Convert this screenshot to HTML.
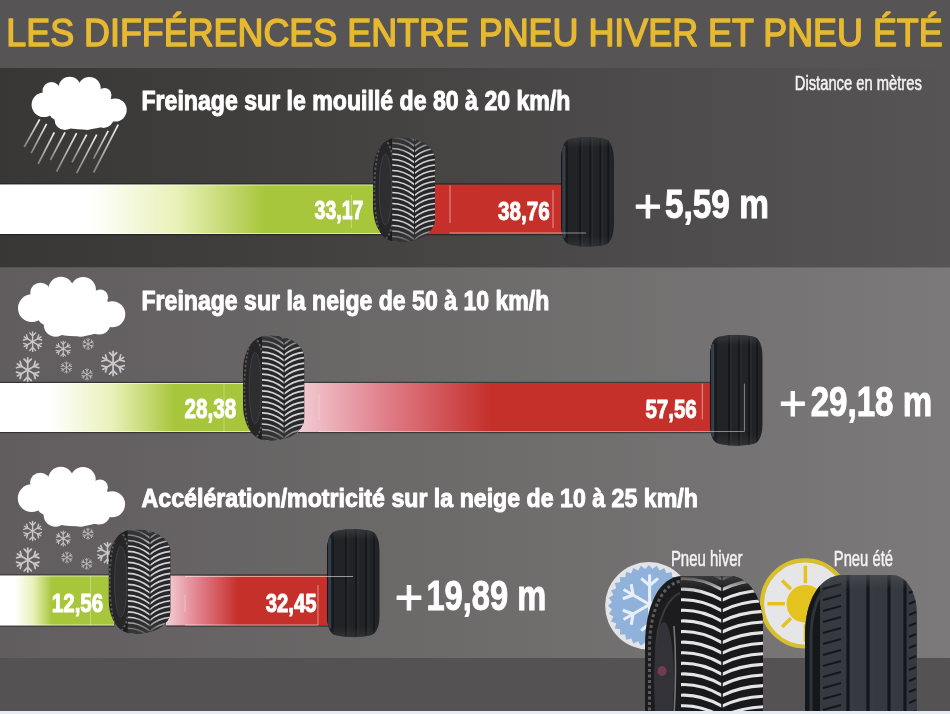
<!DOCTYPE html><html><head><meta charset="utf-8"><title>Les différences entre pneu hiver et pneu été</title>
<style>html,body{margin:0;padding:0;background:#5a5758;}body{width:950px;height:714px;overflow:hidden;}svg{display:block;font-family:"Liberation Sans",Arial,sans-serif;}</style></head><body>
<svg width="950" height="714" viewBox="0 0 950 714">
<defs>
<linearGradient id="gp1" x1="0" y1="0" x2="1" y2="0"><stop offset="0" stop-color="#393735"/><stop offset="1" stop-color="#565455"/></linearGradient>
<linearGradient id="gp2" x1="0" y1="0" x2="1" y2="0"><stop offset="0" stop-color="#615d5e"/><stop offset="1" stop-color="#7b7979"/></linearGradient>
<linearGradient id="gb" x1="0" y1="0" x2="1" y2="0"><stop offset="0" stop-color="#545253"/><stop offset="1" stop-color="#5e5c5d"/></linearGradient>
<linearGradient id="rainG" x1="1" y1="0" x2="0" y2="1"><stop offset="0" stop-color="#f4f4f4"/><stop offset="1" stop-color="#bdbdbd" stop-opacity="0.55"/></linearGradient>
<linearGradient id="gg1" gradientUnits="userSpaceOnUse" x1="0" y1="0" x2="265" y2="0"><stop offset="0" stop-color="#ffffff"/><stop offset="0.340" stop-color="#ffffff"/><stop offset="0.670" stop-color="#e9f1b8"/><stop offset="1" stop-color="#a7c63b"/></linearGradient>
<linearGradient id="gg2" gradientUnits="userSpaceOnUse" x1="0" y1="0" x2="175" y2="0"><stop offset="0" stop-color="#ffffff"/><stop offset="0.286" stop-color="#ffffff"/><stop offset="0.643" stop-color="#e9f1b8"/><stop offset="1" stop-color="#a7c63b"/></linearGradient>
<linearGradient id="gg3" gradientUnits="userSpaceOnUse" x1="0" y1="0" x2="52" y2="0"><stop offset="0" stop-color="#ffffff"/><stop offset="0.288" stop-color="#ffffff"/><stop offset="0.644" stop-color="#e9f1b8"/><stop offset="1" stop-color="#a7c63b"/></linearGradient>
<linearGradient id="rg2" gradientUnits="userSpaceOnUse" x1="300" y1="0" x2="490" y2="0"><stop offset="0" stop-color="#f2cbd2"/><stop offset="0.45" stop-color="#e07e8a"/><stop offset="1" stop-color="#c5302b"/></linearGradient>
<linearGradient id="rg3" gradientUnits="userSpaceOnUse" x1="168" y1="0" x2="238" y2="0"><stop offset="0" stop-color="#f2cbd2"/><stop offset="0.45" stop-color="#e07e8a"/><stop offset="1" stop-color="#c5302b"/></linearGradient>
<g id="cloud" fill="#ffffff">
<circle cx="43.9" cy="104.7" r="12.3"/>
<circle cx="51.5" cy="91" r="9"/>
<circle cx="69.7" cy="88" r="11.2"/>
<circle cx="89.4" cy="88.3" r="11.3"/>
<circle cx="104.5" cy="95" r="7"/>
<circle cx="115.2" cy="110" r="11.5"/>
<circle cx="65" cy="119.5" r="10.5"/>
<circle cx="87.4" cy="119.5" r="10.5"/>
<circle cx="103.6" cy="118" r="10"/>
<ellipse cx="80" cy="105" rx="34" ry="16"/>
<ellipse cx="83" cy="120" rx="27" ry="9.5"/>
<ellipse cx="58" cy="112" rx="9" ry="8"/>
</g>
<g id="sf" stroke="#cbc7c8" stroke-width="1.45" stroke-linecap="round" fill="none">
<path d="M0,-10V10M-8.66,-5L8.66,5M-8.66,5L8.66,-5"/>
<path d="M-3,-9L0,-6L3,-9M-3,9L0,6L3,9M-9.3,-1.8L-5.2,-3L-6.3,-7.1M9.3,1.8L5.2,3L6.3,7.1M-9.3,1.8L-5.2,3L-6.3,7.1M9.3,-1.8L5.2,-3L6.3,-7.1"/>
</g>
</defs>
<rect x="0" y="0" width="950" height="68" fill="#575455"/>
<rect x="0" y="68" width="950" height="199.5" fill="url(#gp1)"/>
<rect x="0" y="267.5" width="950" height="390.5" fill="url(#gp2)"/>
<rect x="0" y="658" width="950" height="53" fill="#545253"/>
<rect x="0" y="711" width="950" height="3" fill="#e6ecf4"/>
<text x="6.28" y="45.80" textLength="936.42" lengthAdjust="spacingAndGlyphs" font-size="39.07" font-weight="normal" fill="#e7b931" stroke="#e7b931" stroke-width="1.5" stroke-linejoin="round" >LES DIFFÉRENCES ENTRE PNEU HIVER ET PNEU ÉTÉ</text>
<use href="#cloud"/>
<line x1="39.7" y1="119.3" x2="24.2" y2="147" stroke="url(#rainG)" stroke-width="1.7"/>
<line x1="46.6" y1="123.9" x2="31.2" y2="153.2" stroke="url(#rainG)" stroke-width="1.7"/>
<line x1="54.3" y1="132.4" x2="38.1" y2="164" stroke="url(#rainG)" stroke-width="1.7"/>
<line x1="65" y1="132.4" x2="50.4" y2="160" stroke="url(#rainG)" stroke-width="1.7"/>
<line x1="76.6" y1="133.2" x2="56.6" y2="171.7" stroke="url(#rainG)" stroke-width="1.7"/>
<line x1="86.6" y1="134.7" x2="72" y2="162.4" stroke="url(#rainG)" stroke-width="1.7"/>
<line x1="96.7" y1="134.7" x2="76.6" y2="173.2" stroke="url(#rainG)" stroke-width="1.7"/>
<line x1="108.2" y1="130.9" x2="93.6" y2="158.6" stroke="url(#rainG)" stroke-width="1.7"/>
<line x1="118.2" y1="124.7" x2="93.6" y2="172.5" stroke="url(#rainG)" stroke-width="1.7"/>
<text x="141.48" y="110.30" textLength="428.98" lengthAdjust="spacingAndGlyphs" font-size="26.89" font-weight="bold" fill="#ffffff" stroke="#ffffff" stroke-width="1.0" stroke-linejoin="round" >Freinage sur le mouillé de 80 à 20 km/h</text>
<text x="794.80" y="90.30" textLength="127.04" lengthAdjust="spacingAndGlyphs" font-size="19.36" font-weight="normal" fill="#f2f2f2" stroke="#f2f2f2" stroke-width="0.55" stroke-linejoin="round" >Distance en mètres</text>
<rect x="0" y="184.5" width="382" height="49.5" fill="url(#gg1)"/>
<rect x="0" y="183.3" width="382" height="1.2" fill="#121212" opacity="0.55"/>
<rect x="0" y="234.0" width="382" height="1.2" fill="#121212" opacity="0.55"/>
<rect x="0" y="184.5" width="382" height="1" fill="#ffffff" opacity="0.6"/>
<rect x="0" y="233.0" width="382" height="1" fill="#ffffff" opacity="0.6"/>
<rect x="426" y="184.5" width="136" height="49.5" fill="#c6302b"/>
<rect x="426" y="183.3" width="136" height="1.2" fill="#121212" opacity="0.55"/>
<rect x="426" y="234.0" width="136" height="1.2" fill="#121212" opacity="0.55"/>
<text x="314.61" y="219.00" textLength="48.72" lengthAdjust="spacingAndGlyphs" font-size="25.00" font-weight="bold" fill="#ffffff" stroke="#ffffff" stroke-width="1.0" stroke-linejoin="round" >33,17</text>
<text x="498.09" y="219.60" textLength="51.58" lengthAdjust="spacingAndGlyphs" font-size="26.29" font-weight="bold" fill="#ffffff" stroke="#ffffff" stroke-width="1.0" stroke-linejoin="round" >38,76</text>
<g transform="translate(373.0,137.5)">
<clipPath id="wc1"><path d="M25.0,0.0 C45.0,0.0 62.0,8.0 62.0,23.9 L62.0,80.6 C62.0,96.5 45.0,104.5 25.0,104.5 C10.0,104.5 0.0,89.6 0.0,67.7 L0.0,36.8 C0.0,14.9 10.0,0.0 25.0,0.0 Z"/></clipPath>
<clipPath id="wt1"><path d="M19.0,1.0 L25.0,0.0 C45.0,0.0 62.0,8.0 62.0,23.9 L62.0,80.6 C62.0,96.5 45.0,104.5 25.0,104.5 L19.0,103.5 Z"/></clipPath>
<g clip-path="url(#wc1)">
<rect x="0" y="0" width="62.0" height="104.5" fill="#1d1d1f"/>
<ellipse cx="11.8" cy="52.2" rx="10.5" ry="49.1" fill="#262628" stroke="#69696b" stroke-opacity="0.75" stroke-width="1.9" stroke-dasharray="2.5 1.9"/>
<ellipse cx="12.4" cy="52.2" rx="6.2" ry="35.5" fill="#2e2e31" stroke="#3f3f42" stroke-width="1"/>
</g>
<g clip-path="url(#wt1)">
<rect x="0" y="0" width="62.0" height="104.5" fill="#28282a"/>
<path d="M19.2,-16.5Q31.0,-16.5 41.5,-8.0Q49.6,-15.2 62.0,-16.5" fill="none" stroke="#d2d2d4" stroke-width="1.65"/>
<path d="M19.2,-11.0Q31.0,-11.0 41.5,-2.5Q49.6,-9.7 62.0,-11.0" fill="none" stroke="#d2d2d4" stroke-width="1.65"/>
<path d="M19.2,-5.5Q31.0,-5.5 41.5,3.0Q49.6,-4.2 62.0,-5.5" fill="none" stroke="#d2d2d4" stroke-width="1.65"/>
<path d="M19.2,0.0Q31.0,0.0 41.5,8.5Q49.6,1.3 62.0,0.0" fill="none" stroke="#d2d2d4" stroke-width="1.65"/>
<path d="M19.2,5.5Q31.0,5.5 41.5,14.0Q49.6,6.8 62.0,5.5" fill="none" stroke="#d2d2d4" stroke-width="1.65"/>
<path d="M19.2,11.0Q31.0,11.0 41.5,19.5Q49.6,12.3 62.0,11.0" fill="none" stroke="#d2d2d4" stroke-width="1.65"/>
<path d="M19.2,16.5Q31.0,16.5 41.5,25.0Q49.6,17.8 62.0,16.5" fill="none" stroke="#d2d2d4" stroke-width="1.65"/>
<path d="M19.2,22.0Q31.0,22.0 41.5,30.5Q49.6,23.3 62.0,22.0" fill="none" stroke="#d2d2d4" stroke-width="1.65"/>
<path d="M19.2,27.5Q31.0,27.5 41.5,36.0Q49.6,28.8 62.0,27.5" fill="none" stroke="#d2d2d4" stroke-width="1.65"/>
<path d="M19.2,33.0Q31.0,33.0 41.5,41.5Q49.6,34.3 62.0,33.0" fill="none" stroke="#d2d2d4" stroke-width="1.65"/>
<path d="M19.2,38.5Q31.0,38.5 41.5,47.0Q49.6,39.8 62.0,38.5" fill="none" stroke="#d2d2d4" stroke-width="1.65"/>
<path d="M19.2,44.0Q31.0,44.0 41.5,52.5Q49.6,45.3 62.0,44.0" fill="none" stroke="#d2d2d4" stroke-width="1.65"/>
<path d="M19.2,49.5Q31.0,49.5 41.5,58.0Q49.6,50.8 62.0,49.5" fill="none" stroke="#d2d2d4" stroke-width="1.65"/>
<path d="M19.2,55.0Q31.0,55.0 41.5,63.5Q49.6,56.3 62.0,55.0" fill="none" stroke="#d2d2d4" stroke-width="1.65"/>
<path d="M19.2,60.5Q31.0,60.5 41.5,69.0Q49.6,61.8 62.0,60.5" fill="none" stroke="#d2d2d4" stroke-width="1.65"/>
<path d="M19.2,66.0Q31.0,66.0 41.5,74.5Q49.6,67.3 62.0,66.0" fill="none" stroke="#d2d2d4" stroke-width="1.65"/>
<path d="M19.2,71.5Q31.0,71.5 41.5,80.0Q49.6,72.8 62.0,71.5" fill="none" stroke="#d2d2d4" stroke-width="1.65"/>
<path d="M19.2,77.0Q31.0,77.0 41.5,85.5Q49.6,78.3 62.0,77.0" fill="none" stroke="#d2d2d4" stroke-width="1.65"/>
<path d="M19.2,82.5Q31.0,82.5 41.5,91.0Q49.6,83.8 62.0,82.5" fill="none" stroke="#d2d2d4" stroke-width="1.65"/>
<path d="M19.2,88.0Q31.0,88.0 41.5,96.5Q49.6,89.3 62.0,88.0" fill="none" stroke="#d2d2d4" stroke-width="1.65"/>
<path d="M19.2,93.5Q31.0,93.5 41.5,102.0Q49.6,94.8 62.0,93.5" fill="none" stroke="#d2d2d4" stroke-width="1.65"/>
<path d="M19.2,99.0Q31.0,99.0 41.5,107.5Q49.6,100.3 62.0,99.0" fill="none" stroke="#d2d2d4" stroke-width="1.65"/>
<path d="M19.2,104.5Q31.0,104.5 41.5,113.0Q49.6,105.8 62.0,104.5" fill="none" stroke="#d2d2d4" stroke-width="1.65"/>
<path d="M19.2,110.0Q31.0,110.0 41.5,118.5Q49.6,111.3 62.0,110.0" fill="none" stroke="#d2d2d4" stroke-width="1.65"/>
<path d="M19.2,115.5Q31.0,115.5 41.5,124.0Q49.6,116.8 62.0,115.5" fill="none" stroke="#d2d2d4" stroke-width="1.65"/>
<line x1="41.5" y1="0" x2="41.5" y2="104.5" stroke="#1b1b1d" stroke-width="0.9"/>
<linearGradient id="wtg1" x1="0" y1="0" x2="0" y2="1"><stop offset="0" stop-color="#3a3a3c" stop-opacity="0.85"/><stop offset="0.16" stop-color="#3a3a3c" stop-opacity="0"/><stop offset="0.84" stop-color="#3a3a3c" stop-opacity="0"/><stop offset="1" stop-color="#3a3a3c" stop-opacity="0.85"/></linearGradient>
<rect x="0" y="0" width="62.0" height="104.5" fill="url(#wtg1)"/>
</g>
</g>
<g transform="translate(561.0,136.8)">
<clipPath id="sc1"><path d="M10.0,2.0 Q26.5,-1.5 43.0,2.0 C50.0,3.0 53.0,12.0 53.0,25.0 L53.0,85.2 C53.0,98.2 50.0,107.2 43.0,108.2 Q26.5,111.7 10.0,108.2 C3.0,107.2 0.0,98.2 0.0,85.2 L0.0,25.0 C0.0,12.0 3.0,3.0 10.0,2.0 Z"/></clipPath>
<g clip-path="url(#sc1)">
<rect x="0" y="0" width="53.0" height="110.2" fill="#222326"/>
<rect x="0" y="0" width="6.9" height="110.2" fill="#17181b"/>
<rect x="1.3" y="8.8" width="3.2" height="92.6" rx="1.6" fill="#3b4752" opacity="0.85"/>
<line x1="19.1" y1="0" x2="19.1" y2="110.2" stroke="#141518" stroke-width="1.6"/>
<line x1="29.2" y1="0" x2="29.2" y2="110.2" stroke="#141518" stroke-width="1.6"/>
<line x1="39.2" y1="0" x2="39.2" y2="110.2" stroke="#141518" stroke-width="1.6"/>
<line x1="47.2" y1="0" x2="47.2" y2="110.2" stroke="#141518" stroke-width="1.6"/>
<line x1="21.2" y1="0" x2="21.2" y2="110.2" stroke="#3a3d42" stroke-width="0.8" opacity="0.6"/>
<line x1="31.3" y1="0" x2="31.3" y2="110.2" stroke="#3a3d42" stroke-width="0.8" opacity="0.6"/>
<line x1="41.3" y1="0" x2="41.3" y2="110.2" stroke="#3a3d42" stroke-width="0.8" opacity="0.6"/>
<linearGradient id="stg1" x1="0" y1="0" x2="0" y2="1"><stop offset="0" stop-color="#45464a" stop-opacity="0.6"/><stop offset="0.1" stop-color="#45464a" stop-opacity="0"/><stop offset="0.9" stop-color="#45464a" stop-opacity="0"/><stop offset="1" stop-color="#45464a" stop-opacity="0.4"/></linearGradient>
<rect x="0" y="0" width="53.0" height="110.2" fill="url(#stg1)"/>
</g>
</g>
<text x="634.11" y="221.55" textLength="27.89" lengthAdjust="spacingAndGlyphs" font-size="46.12" font-weight="normal" fill="#ffffff" stroke="#ffffff" stroke-width="1.0" stroke-linejoin="round" >+</text>
<text x="664.90" y="218.00" textLength="104.02" lengthAdjust="spacingAndGlyphs" font-size="40.29" font-weight="bold" fill="#ffffff" stroke="#ffffff" stroke-width="1.0" stroke-linejoin="round" >5,59 m</text>
<line x1="351.5" y1="195" x2="351.5" y2="228" stroke="#ffffff" stroke-opacity="0.35" stroke-width="0.9"/>
<line x1="450" y1="185.5" x2="450" y2="223" stroke="#ffffff" stroke-opacity="0.55" stroke-width="0.9"/>
<line x1="553" y1="190" x2="553" y2="228" stroke="#ffffff" stroke-opacity="0.55" stroke-width="0.9"/>
<line x1="449.5" y1="233" x2="586" y2="233" stroke="#ffffff" stroke-opacity="0.55" stroke-width="0.9"/>
<use href="#cloud" transform="translate(18,277) scale(1.128) translate(-31.6,-77)"/>
<use href="#sf" transform="translate(32.6,341.7) scale(0.970)"/>
<use href="#sf" transform="translate(27.7,369.9) scale(1.200)"/>
<use href="#sf" transform="translate(63.2,348.9) scale(0.770)"/>
<use href="#sf" transform="translate(88.1,344.1) scale(0.560)"/>
<use href="#sf" transform="translate(66.4,367.5) scale(0.560)"/>
<use href="#sf" transform="translate(87.0,374.4) scale(0.560)"/>
<use href="#sf" transform="translate(113.1,363.4) scale(1.200)"/>
<text x="141.48" y="310.30" textLength="407.90" lengthAdjust="spacingAndGlyphs" font-size="26.89" font-weight="bold" fill="#ffffff" stroke="#ffffff" stroke-width="1.0" stroke-linejoin="round" >Freinage sur la neige de 50 à 10 km/h</text>
<rect x="0" y="383" width="252" height="49" fill="url(#gg2)"/>
<rect x="0" y="381.8" width="252" height="1.2" fill="#121212" opacity="0.55"/>
<rect x="0" y="432" width="252" height="1.2" fill="#121212" opacity="0.55"/>
<rect x="0" y="383" width="252" height="1" fill="#ffffff" opacity="0.6"/>
<rect x="0" y="431" width="252" height="1" fill="#ffffff" opacity="0.6"/>
<rect x="298" y="383" width="413" height="49" fill="url(#rg2)"/>
<rect x="298" y="381.8" width="413" height="1.2" fill="#121212" opacity="0.55"/>
<rect x="298" y="432" width="413" height="1.2" fill="#121212" opacity="0.55"/>
<text x="184.58" y="417.80" textLength="51.69" lengthAdjust="spacingAndGlyphs" font-size="27.57" font-weight="bold" fill="#ffffff" stroke="#ffffff" stroke-width="1.0" stroke-linejoin="round" >28,38</text>
<text x="645.38" y="417.70" textLength="51.38" lengthAdjust="spacingAndGlyphs" font-size="26.29" font-weight="bold" fill="#ffffff" stroke="#ffffff" stroke-width="1.0" stroke-linejoin="round" >57,56</text>
<g transform="translate(243.0,335.5)">
<clipPath id="wc2"><path d="M24.8,0.0 C44.6,0.0 61.4,8.0 61.4,24.0 L61.4,81.1 C61.4,97.1 44.6,105.1 24.8,105.1 C9.9,105.1 0.0,90.1 0.0,68.1 L0.0,37.0 C0.0,15.0 9.9,0.0 24.8,0.0 Z"/></clipPath>
<clipPath id="wt2"><path d="M18.8,1.0 L24.8,0.0 C44.6,0.0 61.4,8.0 61.4,24.0 L61.4,81.1 C61.4,97.1 44.6,105.1 24.8,105.1 L18.8,104.1 Z"/></clipPath>
<g clip-path="url(#wc2)">
<rect x="0" y="0" width="61.4" height="105.1" fill="#1d1d1f"/>
<ellipse cx="11.7" cy="52.6" rx="10.4" ry="49.4" fill="#262628" stroke="#69696b" stroke-opacity="0.75" stroke-width="1.8" stroke-dasharray="2.5 1.8"/>
<ellipse cx="12.3" cy="52.6" rx="6.1" ry="35.7" fill="#2e2e31" stroke="#3f3f42" stroke-width="1"/>
</g>
<g clip-path="url(#wt2)">
<rect x="0" y="0" width="61.4" height="105.1" fill="#28282a"/>
<path d="M19.0,-16.6Q30.7,-16.6 41.1,-8.0Q49.1,-15.3 61.4,-16.6" fill="none" stroke="#d2d2d4" stroke-width="1.66"/>
<path d="M19.0,-11.1Q30.7,-11.1 41.1,-2.5Q49.1,-9.8 61.4,-11.1" fill="none" stroke="#d2d2d4" stroke-width="1.66"/>
<path d="M19.0,-5.5Q30.7,-5.5 41.1,3.0Q49.1,-4.2 61.4,-5.5" fill="none" stroke="#d2d2d4" stroke-width="1.66"/>
<path d="M19.0,0.0Q30.7,0.0 41.1,8.6Q49.1,1.3 61.4,0.0" fill="none" stroke="#d2d2d4" stroke-width="1.66"/>
<path d="M19.0,5.5Q30.7,5.5 41.1,14.1Q49.1,6.8 61.4,5.5" fill="none" stroke="#d2d2d4" stroke-width="1.66"/>
<path d="M19.0,11.1Q30.7,11.1 41.1,19.6Q49.1,12.3 61.4,11.1" fill="none" stroke="#d2d2d4" stroke-width="1.66"/>
<path d="M19.0,16.6Q30.7,16.6 41.1,25.2Q49.1,17.9 61.4,16.6" fill="none" stroke="#d2d2d4" stroke-width="1.66"/>
<path d="M19.0,22.1Q30.7,22.1 41.1,30.7Q49.1,23.4 61.4,22.1" fill="none" stroke="#d2d2d4" stroke-width="1.66"/>
<path d="M19.0,27.7Q30.7,27.7 41.1,36.2Q49.1,28.9 61.4,27.7" fill="none" stroke="#d2d2d4" stroke-width="1.66"/>
<path d="M19.0,33.2Q30.7,33.2 41.1,41.8Q49.1,34.5 61.4,33.2" fill="none" stroke="#d2d2d4" stroke-width="1.66"/>
<path d="M19.0,38.7Q30.7,38.7 41.1,47.3Q49.1,40.0 61.4,38.7" fill="none" stroke="#d2d2d4" stroke-width="1.66"/>
<path d="M19.0,44.3Q30.7,44.3 41.1,52.8Q49.1,45.5 61.4,44.3" fill="none" stroke="#d2d2d4" stroke-width="1.66"/>
<path d="M19.0,49.8Q30.7,49.8 41.1,58.4Q49.1,51.1 61.4,49.8" fill="none" stroke="#d2d2d4" stroke-width="1.66"/>
<path d="M19.0,55.3Q30.7,55.3 41.1,63.9Q49.1,56.6 61.4,55.3" fill="none" stroke="#d2d2d4" stroke-width="1.66"/>
<path d="M19.0,60.8Q30.7,60.8 41.1,69.4Q49.1,62.1 61.4,60.8" fill="none" stroke="#d2d2d4" stroke-width="1.66"/>
<path d="M19.0,66.4Q30.7,66.4 41.1,75.0Q49.1,67.7 61.4,66.4" fill="none" stroke="#d2d2d4" stroke-width="1.66"/>
<path d="M19.0,71.9Q30.7,71.9 41.1,80.5Q49.1,73.2 61.4,71.9" fill="none" stroke="#d2d2d4" stroke-width="1.66"/>
<path d="M19.0,77.4Q30.7,77.4 41.1,86.0Q49.1,78.7 61.4,77.4" fill="none" stroke="#d2d2d4" stroke-width="1.66"/>
<path d="M19.0,83.0Q30.7,83.0 41.1,91.5Q49.1,84.3 61.4,83.0" fill="none" stroke="#d2d2d4" stroke-width="1.66"/>
<path d="M19.0,88.5Q30.7,88.5 41.1,97.1Q49.1,89.8 61.4,88.5" fill="none" stroke="#d2d2d4" stroke-width="1.66"/>
<path d="M19.0,94.0Q30.7,94.0 41.1,102.6Q49.1,95.3 61.4,94.0" fill="none" stroke="#d2d2d4" stroke-width="1.66"/>
<path d="M19.0,99.6Q30.7,99.6 41.1,108.1Q49.1,100.9 61.4,99.6" fill="none" stroke="#d2d2d4" stroke-width="1.66"/>
<path d="M19.0,105.1Q30.7,105.1 41.1,113.7Q49.1,106.4 61.4,105.1" fill="none" stroke="#d2d2d4" stroke-width="1.66"/>
<path d="M19.0,110.6Q30.7,110.6 41.1,119.2Q49.1,111.9 61.4,110.6" fill="none" stroke="#d2d2d4" stroke-width="1.66"/>
<path d="M19.0,116.2Q30.7,116.2 41.1,124.7Q49.1,117.4 61.4,116.2" fill="none" stroke="#d2d2d4" stroke-width="1.66"/>
<path d="M19.0,121.7Q30.7,121.7 41.1,130.3Q49.1,123.0 61.4,121.7" fill="none" stroke="#d2d2d4" stroke-width="1.66"/>
<line x1="41.1" y1="0" x2="41.1" y2="105.1" stroke="#1b1b1d" stroke-width="0.9"/>
<linearGradient id="wtg2" x1="0" y1="0" x2="0" y2="1"><stop offset="0" stop-color="#3a3a3c" stop-opacity="0.85"/><stop offset="0.16" stop-color="#3a3a3c" stop-opacity="0"/><stop offset="0.84" stop-color="#3a3a3c" stop-opacity="0"/><stop offset="1" stop-color="#3a3a3c" stop-opacity="0.85"/></linearGradient>
<rect x="0" y="0" width="61.4" height="105.1" fill="url(#wtg2)"/>
</g>
</g>
<g transform="translate(709.8,334.5)">
<clipPath id="sc2"><path d="M10.0,2.0 Q26.5,-1.5 43.0,2.0 C50.0,3.0 53.0,12.2 53.0,25.3 L53.0,86.2 C53.0,99.3 50.0,108.5 43.0,109.5 Q26.5,113.0 10.0,109.5 C3.0,108.5 0.0,99.3 0.0,86.2 L0.0,25.3 C0.0,12.2 3.0,3.0 10.0,2.0 Z"/></clipPath>
<g clip-path="url(#sc2)">
<rect x="0" y="0" width="53.0" height="111.5" fill="#222326"/>
<rect x="0" y="0" width="6.9" height="111.5" fill="#17181b"/>
<rect x="1.3" y="8.9" width="3.2" height="93.7" rx="1.6" fill="#3b4752" opacity="0.85"/>
<line x1="19.1" y1="0" x2="19.1" y2="111.5" stroke="#141518" stroke-width="1.6"/>
<line x1="29.2" y1="0" x2="29.2" y2="111.5" stroke="#141518" stroke-width="1.6"/>
<line x1="39.2" y1="0" x2="39.2" y2="111.5" stroke="#141518" stroke-width="1.6"/>
<line x1="47.2" y1="0" x2="47.2" y2="111.5" stroke="#141518" stroke-width="1.6"/>
<line x1="21.2" y1="0" x2="21.2" y2="111.5" stroke="#3a3d42" stroke-width="0.8" opacity="0.6"/>
<line x1="31.3" y1="0" x2="31.3" y2="111.5" stroke="#3a3d42" stroke-width="0.8" opacity="0.6"/>
<line x1="41.3" y1="0" x2="41.3" y2="111.5" stroke="#3a3d42" stroke-width="0.8" opacity="0.6"/>
<linearGradient id="stg2" x1="0" y1="0" x2="0" y2="1"><stop offset="0" stop-color="#45464a" stop-opacity="0.6"/><stop offset="0.1" stop-color="#45464a" stop-opacity="0"/><stop offset="0.9" stop-color="#45464a" stop-opacity="0"/><stop offset="1" stop-color="#45464a" stop-opacity="0.4"/></linearGradient>
<rect x="0" y="0" width="53.0" height="111.5" fill="url(#stg2)"/>
</g>
</g>
<text x="779.03" y="420.26" textLength="27.65" lengthAdjust="spacingAndGlyphs" font-size="49.59" font-weight="normal" fill="#ffffff" stroke="#ffffff" stroke-width="1.0" stroke-linejoin="round" >+</text>
<text x="810.71" y="416.00" textLength="121.46" lengthAdjust="spacingAndGlyphs" font-size="42.86" font-weight="bold" fill="#ffffff" stroke="#ffffff" stroke-width="1.0" stroke-linejoin="round" >29,18 m</text>
<line x1="224" y1="383" x2="224" y2="432" stroke="#ffffff" stroke-opacity="0.35" stroke-width="0.9"/>
<line x1="702.3" y1="383.6" x2="702.3" y2="419.5" stroke="#ffffff" stroke-opacity="0.55" stroke-width="0.9"/>
<line x1="319" y1="431.5" x2="690" y2="431.5" stroke="#ffffff" stroke-opacity="0.45" stroke-width="0.9"/>
<line x1="319" y1="395" x2="319" y2="420" stroke="#ffffff" stroke-opacity="0.35" stroke-width="0.9"/>
<line x1="744.4" y1="383.6" x2="744.4" y2="431.5" stroke="#ffffff" stroke-opacity="0.5" stroke-width="0.9"/>
<line x1="690" y1="431.5" x2="744.4" y2="431.5" stroke="#ffffff" stroke-opacity="0.5" stroke-width="0.9"/>
<use href="#cloud" transform="translate(17.8,467) scale(1.128) translate(-31.6,-77)"/>
<use href="#sf" transform="translate(32.6,531.0) scale(0.950)"/>
<use href="#sf" transform="translate(27.8,560.0) scale(1.200)"/>
<use href="#sf" transform="translate(63.2,538.5) scale(0.740)"/>
<use href="#sf" transform="translate(88.0,533.7) scale(0.550)"/>
<use href="#sf" transform="translate(67.0,557.5) scale(0.550)"/>
<use href="#sf" transform="translate(86.7,563.8) scale(0.550)"/>
<use href="#sf" transform="translate(107.5,553.0) scale(1.050)"/>
<text x="141.60" y="506.60" textLength="556.28" lengthAdjust="spacingAndGlyphs" font-size="26.08" font-weight="bold" fill="#ffffff" stroke="#ffffff" stroke-width="1.0" stroke-linejoin="round" >Accélération/motricité sur la neige de 10 à 25 km/h</text>
<rect x="0" y="575.5" width="114" height="50" fill="url(#gg3)"/>
<rect x="0" y="574.3" width="114" height="1.2" fill="#121212" opacity="0.55"/>
<rect x="0" y="625.5" width="114" height="1.2" fill="#121212" opacity="0.55"/>
<rect x="0" y="575.5" width="114" height="1" fill="#ffffff" opacity="0.6"/>
<rect x="0" y="624.5" width="114" height="1" fill="#ffffff" opacity="0.6"/>
<rect x="166" y="575.5" width="162" height="50" fill="url(#rg3)"/>
<rect x="166" y="574.3" width="162" height="1.2" fill="#121212" opacity="0.55"/>
<rect x="166" y="625.5" width="162" height="1.2" fill="#121212" opacity="0.55"/>
<text x="51.87" y="611.60" textLength="51.30" lengthAdjust="spacingAndGlyphs" font-size="26.43" font-weight="bold" fill="#ffffff" stroke="#ffffff" stroke-width="1.0" stroke-linejoin="round" >12,56</text>
<text x="265.69" y="611.50" textLength="50.86" lengthAdjust="spacingAndGlyphs" font-size="25.29" font-weight="bold" fill="#ffffff" stroke="#ffffff" stroke-width="1.0" stroke-linejoin="round" >32,45</text>
<g transform="translate(108.4,529.5)">
<clipPath id="wc3"><path d="M25.0,0.0 C45.1,0.0 62.1,7.9 62.1,23.8 L62.1,80.4 C62.1,96.3 45.1,104.2 25.0,104.2 C10.0,104.2 0.0,89.3 0.0,67.5 L0.0,36.7 C0.0,14.9 10.0,0.0 25.0,0.0 Z"/></clipPath>
<clipPath id="wt3"><path d="M19.0,1.0 L25.0,0.0 C45.1,0.0 62.1,7.9 62.1,23.8 L62.1,80.4 C62.1,96.3 45.1,104.2 25.0,104.2 L19.0,103.2 Z"/></clipPath>
<g clip-path="url(#wc3)">
<rect x="0" y="0" width="62.1" height="104.2" fill="#1d1d1f"/>
<ellipse cx="11.8" cy="52.1" rx="10.6" ry="49.0" fill="#262628" stroke="#69696b" stroke-opacity="0.75" stroke-width="1.9" stroke-dasharray="2.5 1.9"/>
<ellipse cx="12.4" cy="52.1" rx="6.2" ry="35.4" fill="#2e2e31" stroke="#3f3f42" stroke-width="1"/>
</g>
<g clip-path="url(#wt3)">
<rect x="0" y="0" width="62.1" height="104.2" fill="#28282a"/>
<path d="M19.3,-16.5Q31.0,-16.5 41.6,-8.0Q49.7,-15.2 62.1,-16.5" fill="none" stroke="#d2d2d4" stroke-width="1.65"/>
<path d="M19.3,-11.0Q31.0,-11.0 41.6,-2.5Q49.7,-9.7 62.1,-11.0" fill="none" stroke="#d2d2d4" stroke-width="1.65"/>
<path d="M19.3,-5.5Q31.0,-5.5 41.6,3.0Q49.7,-4.2 62.1,-5.5" fill="none" stroke="#d2d2d4" stroke-width="1.65"/>
<path d="M19.3,0.0Q31.0,0.0 41.6,8.5Q49.7,1.3 62.1,0.0" fill="none" stroke="#d2d2d4" stroke-width="1.65"/>
<path d="M19.3,5.5Q31.0,5.5 41.6,14.0Q49.7,6.8 62.1,5.5" fill="none" stroke="#d2d2d4" stroke-width="1.65"/>
<path d="M19.3,11.0Q31.0,11.0 41.6,19.5Q49.7,12.2 62.1,11.0" fill="none" stroke="#d2d2d4" stroke-width="1.65"/>
<path d="M19.3,16.5Q31.0,16.5 41.6,25.0Q49.7,17.7 62.1,16.5" fill="none" stroke="#d2d2d4" stroke-width="1.65"/>
<path d="M19.3,21.9Q31.0,21.9 41.6,30.4Q49.7,23.2 62.1,21.9" fill="none" stroke="#d2d2d4" stroke-width="1.65"/>
<path d="M19.3,27.4Q31.0,27.4 41.6,35.9Q49.7,28.7 62.1,27.4" fill="none" stroke="#d2d2d4" stroke-width="1.65"/>
<path d="M19.3,32.9Q31.0,32.9 41.6,41.4Q49.7,34.2 62.1,32.9" fill="none" stroke="#d2d2d4" stroke-width="1.65"/>
<path d="M19.3,38.4Q31.0,38.4 41.6,46.9Q49.7,39.7 62.1,38.4" fill="none" stroke="#d2d2d4" stroke-width="1.65"/>
<path d="M19.3,43.9Q31.0,43.9 41.6,52.4Q49.7,45.1 62.1,43.9" fill="none" stroke="#d2d2d4" stroke-width="1.65"/>
<path d="M19.3,49.4Q31.0,49.4 41.6,57.9Q49.7,50.6 62.1,49.4" fill="none" stroke="#d2d2d4" stroke-width="1.65"/>
<path d="M19.3,54.8Q31.0,54.8 41.6,63.3Q49.7,56.1 62.1,54.8" fill="none" stroke="#d2d2d4" stroke-width="1.65"/>
<path d="M19.3,60.3Q31.0,60.3 41.6,68.8Q49.7,61.6 62.1,60.3" fill="none" stroke="#d2d2d4" stroke-width="1.65"/>
<path d="M19.3,65.8Q31.0,65.8 41.6,74.3Q49.7,67.1 62.1,65.8" fill="none" stroke="#d2d2d4" stroke-width="1.65"/>
<path d="M19.3,71.3Q31.0,71.3 41.6,79.8Q49.7,72.6 62.1,71.3" fill="none" stroke="#d2d2d4" stroke-width="1.65"/>
<path d="M19.3,76.8Q31.0,76.8 41.6,85.3Q49.7,78.1 62.1,76.8" fill="none" stroke="#d2d2d4" stroke-width="1.65"/>
<path d="M19.3,82.3Q31.0,82.3 41.6,90.8Q49.7,83.5 62.1,82.3" fill="none" stroke="#d2d2d4" stroke-width="1.65"/>
<path d="M19.3,87.7Q31.0,87.7 41.6,96.2Q49.7,89.0 62.1,87.7" fill="none" stroke="#d2d2d4" stroke-width="1.65"/>
<path d="M19.3,93.2Q31.0,93.2 41.6,101.7Q49.7,94.5 62.1,93.2" fill="none" stroke="#d2d2d4" stroke-width="1.65"/>
<path d="M19.3,98.7Q31.0,98.7 41.6,107.2Q49.7,100.0 62.1,98.7" fill="none" stroke="#d2d2d4" stroke-width="1.65"/>
<path d="M19.3,104.2Q31.0,104.2 41.6,112.7Q49.7,105.5 62.1,104.2" fill="none" stroke="#d2d2d4" stroke-width="1.65"/>
<path d="M19.3,109.7Q31.0,109.7 41.6,118.2Q49.7,111.0 62.1,109.7" fill="none" stroke="#d2d2d4" stroke-width="1.65"/>
<path d="M19.3,115.2Q31.0,115.2 41.6,123.7Q49.7,116.4 62.1,115.2" fill="none" stroke="#d2d2d4" stroke-width="1.65"/>
<line x1="41.6" y1="0" x2="41.6" y2="104.2" stroke="#1b1b1d" stroke-width="0.9"/>
<linearGradient id="wtg3" x1="0" y1="0" x2="0" y2="1"><stop offset="0" stop-color="#3a3a3c" stop-opacity="0.85"/><stop offset="0.16" stop-color="#3a3a3c" stop-opacity="0"/><stop offset="0.84" stop-color="#3a3a3c" stop-opacity="0"/><stop offset="1" stop-color="#3a3a3c" stop-opacity="0.85"/></linearGradient>
<rect x="0" y="0" width="62.1" height="104.2" fill="url(#wtg3)"/>
</g>
</g>
<g transform="translate(326.8,528.8)">
<clipPath id="sc3"><path d="M10.0,2.0 Q26.5,-1.5 43.0,2.0 C50.0,3.0 53.0,11.9 53.0,24.7 L53.0,84.0 C53.0,96.8 50.0,105.7 43.0,106.7 Q26.5,110.2 10.0,106.7 C3.0,105.7 0.0,96.8 0.0,84.0 L0.0,24.7 C0.0,11.9 3.0,3.0 10.0,2.0 Z"/></clipPath>
<g clip-path="url(#sc3)">
<rect x="0" y="0" width="53.0" height="108.7" fill="#222326"/>
<rect x="0" y="0" width="6.9" height="108.7" fill="#17181b"/>
<rect x="1.3" y="8.7" width="3.2" height="91.3" rx="1.6" fill="#3b4752" opacity="0.85"/>
<line x1="19.1" y1="0" x2="19.1" y2="108.7" stroke="#141518" stroke-width="1.6"/>
<line x1="29.2" y1="0" x2="29.2" y2="108.7" stroke="#141518" stroke-width="1.6"/>
<line x1="39.2" y1="0" x2="39.2" y2="108.7" stroke="#141518" stroke-width="1.6"/>
<line x1="47.2" y1="0" x2="47.2" y2="108.7" stroke="#141518" stroke-width="1.6"/>
<line x1="21.2" y1="0" x2="21.2" y2="108.7" stroke="#3a3d42" stroke-width="0.8" opacity="0.6"/>
<line x1="31.3" y1="0" x2="31.3" y2="108.7" stroke="#3a3d42" stroke-width="0.8" opacity="0.6"/>
<line x1="41.3" y1="0" x2="41.3" y2="108.7" stroke="#3a3d42" stroke-width="0.8" opacity="0.6"/>
<linearGradient id="stg3" x1="0" y1="0" x2="0" y2="1"><stop offset="0" stop-color="#45464a" stop-opacity="0.6"/><stop offset="0.1" stop-color="#45464a" stop-opacity="0"/><stop offset="0.9" stop-color="#45464a" stop-opacity="0"/><stop offset="1" stop-color="#45464a" stop-opacity="0.4"/></linearGradient>
<rect x="0" y="0" width="53.0" height="108.7" fill="url(#stg3)"/>
</g>
</g>
<text x="394.76" y="613.96" textLength="28.49" lengthAdjust="spacingAndGlyphs" font-size="49.59" font-weight="normal" fill="#ffffff" stroke="#ffffff" stroke-width="1.0" stroke-linejoin="round" >+</text>
<text x="426.44" y="610.00" textLength="119.80" lengthAdjust="spacingAndGlyphs" font-size="43.14" font-weight="bold" fill="#ffffff" stroke="#ffffff" stroke-width="1.0" stroke-linejoin="round" >19,89 m</text>
<line x1="90.5" y1="576" x2="90.5" y2="625" stroke="#ffffff" stroke-opacity="0.35" stroke-width="0.9"/>
<line x1="185" y1="576.5" x2="353" y2="576.5" stroke="#ffffff" stroke-opacity="0.6" stroke-width="0.9"/>
<line x1="185" y1="625" x2="318" y2="625" stroke="#ffffff" stroke-opacity="0.6" stroke-width="0.9"/>
<line x1="185" y1="595" x2="185" y2="612" stroke="#ffffff" stroke-opacity="0.4" stroke-width="0.9"/>
<line x1="318" y1="585" x2="318" y2="625" stroke="#ffffff" stroke-opacity="0.5" stroke-width="0.9"/>
<circle cx="648.8" cy="605.8" r="43.7" fill="#e3e4e8"/>
<polygon points="689.6,605.8 685.6,609.4 688.8,613.8 684.2,616.5 686.5,621.4 681.4,623.2 682.7,628.5 677.4,629.3 677.6,634.6 672.3,634.4 671.5,639.7 666.2,638.4 664.4,643.5 659.5,641.2 656.8,645.8 652.4,642.6 648.8,646.6 645.2,642.6 640.8,645.8 638.1,641.2 633.2,643.5 631.4,638.4 626.1,639.7 625.3,634.4 620.0,634.6 620.2,629.3 614.9,628.5 616.2,623.2 611.1,621.4 613.4,616.5 608.8,613.8 612.0,609.4 608.0,605.8 612.0,602.2 608.8,597.8 613.4,595.1 611.1,590.2 616.2,588.4 614.9,583.1 620.2,582.3 620.0,577.0 625.3,577.2 626.1,571.9 631.4,573.2 633.2,568.1 638.1,570.4 640.8,565.8 645.2,569.0 648.8,565.0 652.4,569.0 656.8,565.8 659.5,570.4 664.4,568.1 666.2,573.2 671.5,571.9 672.3,577.2 677.6,577.0 677.4,582.3 682.7,583.1 681.4,588.4 686.5,590.2 684.2,595.1 688.8,597.8 685.6,602.2" fill="#8fb1da"/>
<path d="M649.6,604.5L649.6,574.5M649.6,585.5L641.2,578.4M649.6,585.5L658.0,578.4M649.6,604.5L675.6,589.5M666.1,595.0L668.0,584.2M666.1,595.0L676.4,598.8M649.6,604.5L675.6,619.5M666.1,614.0L676.4,610.2M666.1,614.0L668.0,624.8M649.6,604.5L649.6,634.5M649.6,623.5L658.0,630.6M649.6,623.5L641.2,630.6M649.6,604.5L623.6,619.5M633.1,614.0L631.2,624.8M633.1,614.0L622.8,610.2M649.6,604.5L623.6,589.5M633.1,595.0L622.8,598.8M633.1,595.0L631.2,584.2" stroke="#e8eef7" stroke-width="3.1" fill="none"/>
<circle cx="805.1" cy="603.4" r="43.1" fill="#e6e6e8" stroke="#d7bf2d" stroke-width="4.2"/>
<circle cx="805.4" cy="603.8" r="18.9" fill="#e4c31f"/>
<path d="M825.9,603.8L843.4,603.8M819.9,618.3L828.7,627.1M805.4,624.3L805.4,641.8M790.9,618.3L782.1,627.1M784.9,603.8L767.4,603.8M790.9,589.3L782.1,580.5M805.4,583.3L805.4,565.8M819.9,589.3L828.7,580.5" stroke="#e4c31f" stroke-width="3.5"/>
<g transform="translate(645,576)">
<clipPath id="wbo"><path d="M0,140 L0,70 C0,30 14,0 38,0 L84,0 C104,0 118,22 118,50 L118,140 Z"/></clipPath>
<clipPath id="wbt"><path d="M35,0 L84,0 C104,0 118,22 118,50 L118,140 L35,140 Z"/></clipPath>
<g clip-path="url(#wbo)">
<rect x="0" y="0" width="118" height="140" fill="#1c1c1e"/>
<path d="M4.5,140 L4.5,72 C4.5,36 17,6 38,5" fill="none" stroke="#6c6c70" stroke-width="3" stroke-dasharray="3 2.5" opacity="0.8"/>
<path d="M11,140 L11,78 C11,46 22,20 38,16" fill="none" stroke="#3a3a3e" stroke-width="2"/>
<ellipse cx="19" cy="104" rx="10" ry="58" fill="#323238"/>
<ellipse cx="17" cy="95" rx="4.5" ry="5" fill="#a8485e" opacity="0.55"/>
<path d="M29,50 Q32,90 29,140" stroke="#9a9aa0" stroke-width="1.6" fill="none" opacity="0.7"/>
</g>
<g clip-path="url(#wbt)">
<rect x="0" y="0" width="118" height="140" fill="#19191b"/>
<path d="M36,-8.0 Q56,-9.0 77,3.0 Q95,-6.0 118,-7.0" fill="none" stroke="#e4e4e6" stroke-width="3.1"/>
<path d="M36,2.6 Q56,1.6 77,13.6 Q95,4.6 118,3.6" fill="none" stroke="#e4e4e6" stroke-width="3.1"/>
<path d="M36,13.2 Q56,12.2 77,24.2 Q95,15.2 118,14.2" fill="none" stroke="#e4e4e6" stroke-width="3.1"/>
<path d="M36,23.8 Q56,22.8 77,34.8 Q95,25.8 118,24.8" fill="none" stroke="#e4e4e6" stroke-width="3.1"/>
<path d="M36,34.4 Q56,33.4 77,45.4 Q95,36.4 118,35.4" fill="none" stroke="#e4e4e6" stroke-width="3.1"/>
<path d="M36,45.0 Q56,44.0 77,56.0 Q95,47.0 118,46.0" fill="none" stroke="#e4e4e6" stroke-width="3.1"/>
<path d="M36,55.6 Q56,54.6 77,66.6 Q95,57.6 118,56.6" fill="none" stroke="#e4e4e6" stroke-width="3.1"/>
<path d="M36,66.2 Q56,65.2 77,77.2 Q95,68.2 118,67.2" fill="none" stroke="#e4e4e6" stroke-width="3.1"/>
<path d="M36,76.8 Q56,75.8 77,87.8 Q95,78.8 118,77.8" fill="none" stroke="#e4e4e6" stroke-width="3.1"/>
<path d="M36,87.4 Q56,86.4 77,98.4 Q95,89.4 118,88.4" fill="none" stroke="#e4e4e6" stroke-width="3.1"/>
<path d="M36,98.0 Q56,97.0 77,109.0 Q95,100.0 118,99.0" fill="none" stroke="#e4e4e6" stroke-width="3.1"/>
<path d="M36,108.6 Q56,107.6 77,119.6 Q95,110.6 118,109.6" fill="none" stroke="#e4e4e6" stroke-width="3.1"/>
<path d="M36,119.2 Q56,118.2 77,130.2 Q95,121.2 118,120.2" fill="none" stroke="#e4e4e6" stroke-width="3.1"/>
<path d="M36,129.8 Q56,128.8 77,140.8 Q95,131.8 118,130.8" fill="none" stroke="#e4e4e6" stroke-width="3.1"/>
<path d="M36,140.4 Q56,139.4 77,151.4 Q95,142.4 118,141.4" fill="none" stroke="#e4e4e6" stroke-width="3.1"/>
<line x1="77" y1="0" x2="77" y2="140" stroke="#19191b" stroke-width="1.6"/>
<linearGradient id="wbg" x1="0" y1="0" x2="0" y2="1"><stop offset="0" stop-color="#3c3c3e" stop-opacity="0.9"/><stop offset="0.12" stop-color="#3c3c3e" stop-opacity="0"/></linearGradient>
<rect x="0" y="0" width="118" height="140" fill="url(#wbg)"/>
</g>
</g>
<g transform="translate(805,575)">
<clipPath id="sbo"><path d="M0,140 L0,60 C0,25 15,0 38,0 L86,0 C102,0 112,18 112,40 L112,140 Z"/></clipPath>
<g clip-path="url(#sbo)">
<rect x="0" y="0" width="112" height="140" fill="#363a40"/>
<rect x="0" y="0" width="15" height="140" fill="#16171a"/>
<path d="M6,140 L6,62 C6,40 12,22 20,12" fill="none" stroke="#2e343b" stroke-width="3"/>
<line x1="43" y1="0" x2="43" y2="140" stroke="#15161a" stroke-width="3.2"/>
<line x1="63" y1="0" x2="63" y2="140" stroke="#15161a" stroke-width="3.2"/>
<line x1="84" y1="0" x2="84" y2="140" stroke="#15161a" stroke-width="3.2"/>
<line x1="100" y1="0" x2="100" y2="140" stroke="#15161a" stroke-width="3.2"/>
<line x1="47" y1="0" x2="47" y2="140" stroke="#3b3f46" stroke-width="1.2" opacity="0.8"/>
<line x1="67" y1="0" x2="67" y2="140" stroke="#3b3f46" stroke-width="1.2" opacity="0.8"/>
<line x1="88" y1="0" x2="88" y2="140" stroke="#3b3f46" stroke-width="1.2" opacity="0.8"/>
<path d="M18,14 L36,9" stroke="#16171a" stroke-width="2.2"/>
<path d="M104,18 L111,15" stroke="#16171a" stroke-width="2"/>
<path d="M18,25 L36,20" stroke="#16171a" stroke-width="2.2"/>
<path d="M104,29 L111,26" stroke="#16171a" stroke-width="2"/>
<path d="M18,36 L36,31" stroke="#16171a" stroke-width="2.2"/>
<path d="M104,40 L111,37" stroke="#16171a" stroke-width="2"/>
<path d="M18,47 L36,42" stroke="#16171a" stroke-width="2.2"/>
<path d="M104,51 L111,48" stroke="#16171a" stroke-width="2"/>
<path d="M18,58 L36,53" stroke="#16171a" stroke-width="2.2"/>
<path d="M104,62 L111,59" stroke="#16171a" stroke-width="2"/>
<path d="M18,69 L36,64" stroke="#16171a" stroke-width="2.2"/>
<path d="M104,73 L111,70" stroke="#16171a" stroke-width="2"/>
<path d="M18,80 L36,75" stroke="#16171a" stroke-width="2.2"/>
<path d="M104,84 L111,81" stroke="#16171a" stroke-width="2"/>
<path d="M18,91 L36,86" stroke="#16171a" stroke-width="2.2"/>
<path d="M104,95 L111,92" stroke="#16171a" stroke-width="2"/>
<path d="M18,102 L36,97" stroke="#16171a" stroke-width="2.2"/>
<path d="M104,106 L111,103" stroke="#16171a" stroke-width="2"/>
<path d="M18,113 L36,108" stroke="#16171a" stroke-width="2.2"/>
<path d="M104,117 L111,114" stroke="#16171a" stroke-width="2"/>
<path d="M18,124 L36,119" stroke="#16171a" stroke-width="2.2"/>
<path d="M104,128 L111,125" stroke="#16171a" stroke-width="2"/>
<path d="M18,135 L36,130" stroke="#16171a" stroke-width="2.2"/>
<path d="M104,139 L111,136" stroke="#16171a" stroke-width="2"/>
<linearGradient id="sbg" x1="0" y1="0" x2="0" y2="1"><stop offset="0" stop-color="#4a4d52" stop-opacity="0.7"/><stop offset="0.1" stop-color="#4a4d52" stop-opacity="0"/></linearGradient>
<rect x="0" y="0" width="112" height="140" fill="url(#sbg)"/>
</g>
</g>
<rect x="0" y="711" width="950" height="3" fill="#e6ecf4"/>
<text x="670.88" y="565.80" textLength="71.61" lengthAdjust="spacingAndGlyphs" font-size="21.95" font-weight="normal" fill="#f2f2f2" stroke="#f2f2f2" stroke-width="0.55" stroke-linejoin="round" >Pneu hiver</text>
<text x="833.79" y="565.80" textLength="59.17" lengthAdjust="spacingAndGlyphs" font-size="22.07" font-weight="normal" fill="#f2f2f2" stroke="#f2f2f2" stroke-width="0.55" stroke-linejoin="round" >Pneu été</text>
</svg></body></html>
